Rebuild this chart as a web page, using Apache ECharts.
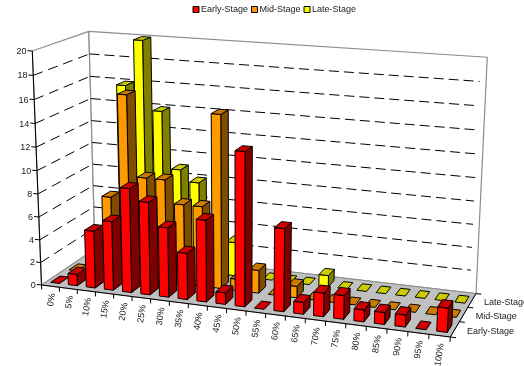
<!DOCTYPE html>
<html>
<head>
<meta charset="utf-8">
<style>html,body{margin:0;padding:0;background:#fff}#chart{width:524px;height:366px}</style>
<script src="https://cdn.jsdelivr.net/npm/echarts@6/dist/echarts.min.js"></script>
</head>
<body>
<div id="chart"></div>
<script>
// Stage counts per percentage bucket.
const categories = ['0%','5%','10%','15%','20%','25%','30%','35%','40%','45%','50%','55%','60%','65%','70%','75%','80%','85%','90%','95%','100%'];
const earlyStage = [0,1,5,6,9,8,6,4,7,1,13,0,7,1,2,2,1,1,1,0,2];
const midStage   = [0,0,7,16,9,9,7,7,15,1,2,0,1,0,0,0,0,0,0,0,0];
const lateStage  = [0,0,16,20,14,9,8,0,3,0,0,0,0,1,0,0,0,0,0,0,0];
const rowNames = ['Early-Stage','Mid-Stage','Late-Stage'];
const valueTicks = [0,2,4,6,8,10,12,14,16,18,20];

// Palette: front, top and side face of each row.
const faces = [
  {front:'#FF0000', top:'#CC0000', side:'#800000'},
  {front:'#FF9900', top:'#CC7A00', side:'#804D00'},
  {front:'#FFFF00', top:'#CCCC00', side:'#808000'}
];
const FONT = '9px "Liberation Sans", Arial, sans-serif';
const INK = '#222';

// Perspective box: unit cube (u along categories, v up, w into the page) to screen pixels.
const O = [41.5,285], U = [450.3,337], V = [32.3,51], W = [95,249];
const wu = 0.91, wv = 0.9553, ww = 1.079;
function project(u, v, w) {
  const d = 1 + u*(wu-1) + v*(wv-1) + w*(ww-1);
  const c = k => O[k] + u*(wu*U[k]-O[k]) + v*(wv*V[k]-O[k]) + w*(ww*W[k]-O[k]);
  return [c(0)/d, c(1)/d];
}

const BAR_WIDTH = 0.5;   // share of a category band
const BAR_DEPTH = 0.5;   // share of a row

function uOf(px, rect) { return (px - rect.x) / rect.width; }
function vOf(py, rect) { return (rect.y + rect.height - py) / rect.height; }

function line(a, b, stroke, lineWidth, dash) {
  return {type:'line', shape:{x1:a[0],y1:a[1],x2:b[0],y2:b[1]},
    style:{stroke, lineWidth, lineDash:dash||null, fill:null}, silent:true};
}
function poly(points, fill, stroke, lineWidth) {
  return {type:'polygon', shape:{points}, style:{fill, stroke, lineWidth, lineJoin:'round'}, silent:true};
}
function label(text, pos, align, rotation) {
  return {type:'text', x:pos[0], y:pos[1], rotation:rotation||0,
    style:{text, font:FONT, fill:INK, align, verticalAlign:'middle'}, silent:true};
}

function barRenderer(row) {
  const f = faces[row];
  return function (params, api) {
    const rect = params.coordSys;
    const cat = api.value(0), val = api.value(1);
    const band = api.size([1,0])[0];
    const base = api.coord([cat,0]), head = api.coord([cat,val]);
    const u0 = uOf(base[0]-band*BAR_WIDTH/2, rect), u1 = uOf(base[0]+band*BAR_WIDTH/2, rect);
    const v1 = vOf(head[1], rect);
    const w0 = (row + (1-BAR_DEPTH)/2)/3, w1 = (row + (1+BAR_DEPTH)/2)/3;
    const p = project;
    const children = [];
    if (val > 0) {
      children.push(poly([p(u1,0,w0),p(u1,0,w1),p(u1,v1,w1),p(u1,v1,w0)], f.side, '#000', 1));
      children.push(poly([p(u0,0,w0),p(u1,0,w0),p(u1,v1,w0),p(u0,v1,w0)], f.front, '#000', 1));
    }
    children.push(poly([p(u0,v1,w0),p(u1,v1,w0),p(u1,v1,w1),p(u0,v1,w1)], f.top, '#000', 1));
    return {type:'group', children};
  };
}

// Walls and floor behind everything.
function renderBox() {
  const A=project(0,0,0), B=project(1,0,0), C=project(1,0,1), D=project(0,0,1);
  const E=project(0,1,0), F=project(0,1,1), G=project(1,1,1);
  return {type:'group', children:[
    poly([E,F,D,A], '#fff', '#8c8c8c', 1.2),
    poly([F,G,C,D], '#fff', '#8c8c8c', 1.2),
    poly([A,B,C,D], '#C0C0C0', '#8c8c8c', 1)
  ]};
}

// One dashed gridline around the walls plus its tick and number on the value axis.
function renderValueTick(params, api) {
  const rect = params.coordSys;
  const t = api.value(1);
  const v = vOf(api.coord([0,t])[1], rect);
  const kids = [];
  if (t > 0 && t < 20) {
    kids.push(line(project(0,v,0), project(0,v,1), '#000', 1, [10,6]));
    kids.push(line(project(0,v,1), project(0.985,v,1), '#000', 1, [10,5]));
  }
  const a = project(0,v,0), b = project(-0.0125,v,0);
  kids.push(line(a, b, '#000', 1));
  kids.push(label(String(t), [b[0]-1, b[1]+1], 'right'));
  return {type:'group', children:kids};
}

// Tick marks and slanted labels along the front edge.
function renderCategoryTick(params, api) {
  const rect = params.coordSys;
  const cat = api.value(0);
  const band = api.size([1,0])[0];
  const c = api.coord([cat,0])[0];
  const u0 = uOf(c-band/2, rect), uc = uOf(c, rect);
  const kids = [line(project(u0,0,0), project(u0,-0.02,0), '#000', 1)];
  if (cat === categories.length-1) {
    const u1 = uOf(c+band/2, rect);
    kids.push(line(project(u1,0,0), project(u1,-0.02,0), '#000', 1));
  }
  const pos = project(uc,-0.028,0);
  kids.push(label(categories[cat], [pos[0]+2, pos[1]+1], 'right', 81*Math.PI/180));
  return {type:'group', children:kids};
}

// Black axis edges, depth ticks and row names.
function renderAxisEdges() {
  const A=project(0,0,0), B=project(1,0,0), C=project(1,0,1), E=project(0,1,0);
  const kids = [line(E,A,'#000',1), line(A,B,'#000',1), line(B,C,'#000',1)];
  [0,1,2,3].forEach(r => {
    kids.push(line(project(1,0,r/3), project(1.0125,0,r/3), '#000', 1));
  });
  rowNames.forEach((name,r) => {
    const p = project(1,0,(r+0.5)/3);
    kids.push(label(name, [p[0]+12, p[1]+2], 'left'));
  });
  return {type:'group', children:kids};
}

function barSeries(name, values, row, z) {
  return {
    name, type:'custom', z, clip:false, silent:true,
    itemStyle:{color:faces[row].front},
    renderItem:barRenderer(row),
    encode:{x:0,y:1},
    data:values.map((val,i) => [i,val])
  };
}

const chart = echarts.init(document.getElementById('chart'), null, {renderer:'canvas'});
chart.setOption({
  animation:false,
  backgroundColor:'#fff',
  legend:{
    data:rowNames, top:0, left:187.5, icon:'rect',
    itemWidth:6, itemHeight:6, itemGap:3,
    itemStyle:{borderColor:'#000', borderWidth:1},
    textStyle:{fontFamily:'"Liberation Sans", Arial, sans-serif', fontSize:9, color:INK, padding:[0,0,0,-3]},
    selectedMode:false
  },
  grid:{left:0,right:0,top:0,bottom:0},
  xAxis:{type:'category', data:categories, show:false},
  yAxis:{type:'value', min:0, max:20, interval:2, show:false},
  series:[
    {type:'custom', z:1, clip:false, silent:true, renderItem:renderBox, encode:{x:0,y:1}, data:[[0,0]]},
    {type:'custom', z:2, clip:false, silent:true, renderItem:renderValueTick, encode:{x:0,y:1}, data:valueTicks.map(t=>[0,t])},
    {type:'custom', z:3, clip:false, silent:true, renderItem:renderAxisEdges, encode:{x:0,y:1}, data:[[0,0]]},
    {type:'custom', z:3, clip:false, silent:true, renderItem:renderCategoryTick, encode:{x:0,y:1}, data:categories.map((c,i)=>[i,0])},
    barSeries(rowNames[2], lateStage, 2, 4),
    barSeries(rowNames[1], midStage, 1, 5),
    barSeries(rowNames[0], earlyStage, 0, 6)
  ]
});
</script>
</body>
</html>
